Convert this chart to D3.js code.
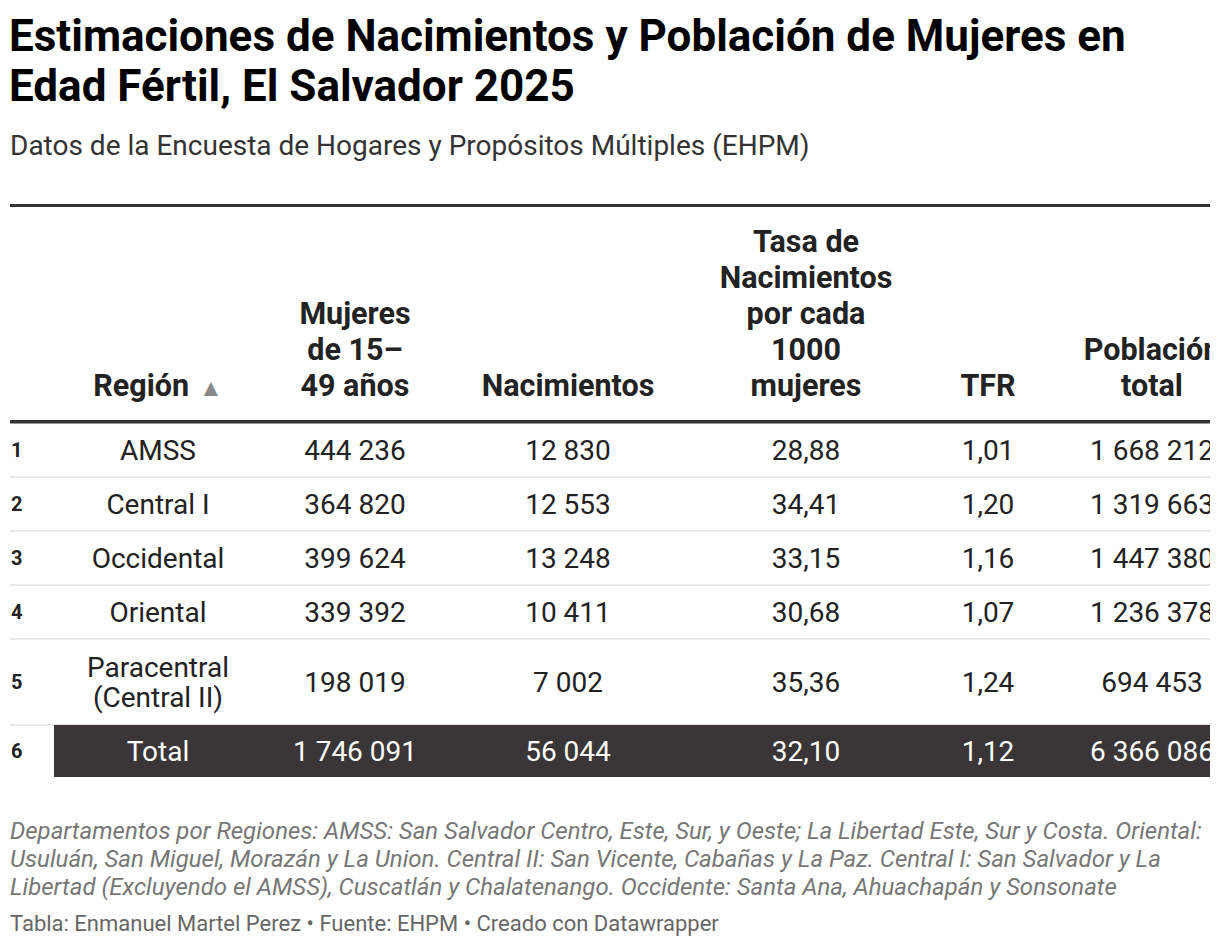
<!DOCTYPE html>
<html>
<head>
<meta charset="utf-8">
<script src="https://cdn.jsdelivr.net/npm/d3@7"></script>
<style>
  body { margin: 0; background: #fff; font-family: Roboto, "Noto Sans", sans-serif; }
  svg { display: block; }
</style>
</head>
<body>
<div id="chart"></div>
<script>
"use strict";

// Datos de la tabla
const regiones = ["AMSS", "Central I", "Occidental", "Oriental", "Paracentral\n(Central II)", "Total"];
const mujeres = [444236, 364820, 399624, 339392, 198019, 1746091];
const nacimientos = [12830, 12553, 13248, 10411, 7002, 56044];
const tasa = [28.88, 34.41, 33.15, 30.68, 35.36, 32.10];
const tfr = [1.01, 1.20, 1.16, 1.07, 1.24, 1.12];
const poblacion = [1668212, 1319663, 1447380, 1236378, 694453, 6366086];

const encabezados = [
    ["Región"],
    ["Mujeres", "de 15–", "49 años"],
    ["Nacimientos"],
    ["Tasa de", "Nacimientos", "por cada", "1000", "mujeres"],
    ["TFR"],
    ["Población", "total"]
];

const titulo = ["Estimaciones de Nacimientos y Población de Mujeres en", "Edad Fértil, El Salvador 2025"];
const subtitulo = "Datos de la Encuesta de Hogares y Propósitos Múltiples (EHPM)";
const notas = [
    "Departamentos por Regiones: AMSS: San Salvador Centro, Este, Sur, y Oeste; La Libertad Este, Sur y Costa. Oriental:",
    "Usuluán, San Miguel, Morazán y La Union. Central II: San Vicente, Cabañas y La Paz. Central I: San Salvador y La",
    "Libertad (Excluyendo el AMSS), Cuscatlán y Chalatenango. Occidente: Santa Ana, Ahuachapán y Sonsonate"
];
const credito = "Tabla: Enmanuel Martel Perez • Fuente: EHPM • Creado con Datawrapper";

// Formato español
const loc = d3.formatLocale({ decimal: ",", thousands: " ", grouping: [3], currency: ["", ""] });
const fInt = loc.format(",d");
const fDec = loc.format(",.2f");

const columnas = ["region", "mujeres", "nac", "tasa", "tfr", "pob"];
const filas = regiones.map((r, i) => ({
    n: i + 1,
    region: r,
    mujeres: fInt(mujeres[i]),
    nac: fInt(nacimientos[i]),
    tasa: fDec(tasa[i]),
    tfr: fDec(tfr[i]),
    pob: fInt(poblacion[i]),
    total: r === "Total"
}));

const svgWidth = 1220, svgHeight = 948;
const tableRight = 1210;

const svg = d3.select("#chart").append("svg")
    .attr("width", svgWidth)
    .attr("height", svgHeight);

svg.append("defs").append("clipPath").attr("id", "clip")
    .append("rect").attr("x", 0).attr("y", 0).attr("width", tableRight).attr("height", svgHeight);

// Título y subtítulo
svg.append("text")
    .attr("font-size", 44).attr("font-weight", 700).attr("fill", "#000")
    .selectAll("tspan").data(titulo).join("tspan")
    .attr("x", 9).attr("y", (d, i) => 51 + i * 50)
    .text(d => d);

svg.append("text")
    .attr("x", 10).attr("y", 155)
    .attr("font-size", 28).attr("fill", "#333")
    .text(subtitulo);

// Escalas
const x = d3.scaleOrdinal().domain(columnas).range([158, 355, 568, 806, 988, 1152]);

const altos = [54, 54, 54, 54, 86, 52];
const tablaTop = 423;
const tops = altos.map((h, i) => tablaTop + d3.sum(altos.slice(0, i)));
const y = d3.scaleOrdinal().domain(d3.range(filas.length)).range(tops);

const g = svg.append("g").attr("clip-path", "url(#clip)");

// Regla superior
g.append("rect").attr("x", 10).attr("y", 204).attr("width", tableRight - 10).attr("height", 3).attr("fill", "#333");

// Encabezados
const lh = 36, baseEnc = 396;
const enc = g.append("g").attr("font-size", 30.5).attr("font-weight", 700).attr("fill", "#222").attr("text-anchor", "middle");
encabezados.forEach((lineas, c) => {
    const t = enc.append("text").attr("x", x(columnas[c]));
    lineas.forEach((l, j) => {
        t.append("tspan")
            .attr("x", x(columnas[c]))
            .attr("y", baseEnc - (lineas.length - 1 - j) * lh)
            .text(l);
    });
    if (c === 0) {
        t.append("tspan").attr("font-size", 24).attr("fill", "#888").attr("dx", 10).text("▲");
    }
});

// Filas
const fila = g.selectAll(".fila").data(filas).join("g")
    .attr("class", "fila")
    .attr("transform", (d, i) => `translate(0,${y(i)})`);

fila.filter(d => d.total).append("rect")
    .attr("x", 54).attr("y", 0)
    .attr("width", tableRight - 54)
    .attr("height", d => altos[d.n - 1])
    .attr("fill", "#3a3638");

fila.filter(d => !d.total).append("rect")
    .attr("x", 10)
    .attr("y", d => altos[d.n - 1] - 1)
    .attr("width", tableRight - 10).attr("height", 2)
    .attr("fill", "#e8e8e8");

fila.append("text")
    .attr("x", 11)
    .attr("y", d => altos[d.n - 1] / 2)
    .attr("dy", "0.36em")
    .attr("font-size", 20).attr("font-weight", 700).attr("fill", "#222")
    .text(d => d.n);

columnas.forEach(col => {
    fila.append("text")
        .attr("x", x(col))
        .attr("text-anchor", "middle")
        .attr("font-size", 28)
        .attr("fill", d => d.total ? "#fff" : "#222")
        .each(function (d) {
            const lineas = String(d[col]).split("\n");
            const mid = altos[d.n - 1] / 2;
            const lh2 = 30;
            d3.select(this).selectAll("tspan").data(lineas).join("tspan")
                .attr("x", x(col))
                .attr("y", (l, j) => mid + (j - (lineas.length - 1) / 2) * lh2)
                .attr("dy", "0.36em")
                .text(l => l);
        });
});

// Regla bajo los encabezados
g.append("rect").attr("x", 10).attr("y", 420).attr("width", tableRight - 10).attr("height", 3.5).attr("fill", "#333");

// Notas
svg.append("text")
    .attr("font-size", 24).attr("font-style", "italic").attr("fill", "#777")
    .selectAll("tspan").data(notas).join("tspan")
    .attr("x", 10).attr("y", (d, i) => 839 + i * 28)
    .text(d => d);

svg.append("text")
    .attr("x", 10).attr("y", 931)
    .attr("font-size", 22).attr("fill", "#666")
    .text(credito);
</script>
</body>
</html>
